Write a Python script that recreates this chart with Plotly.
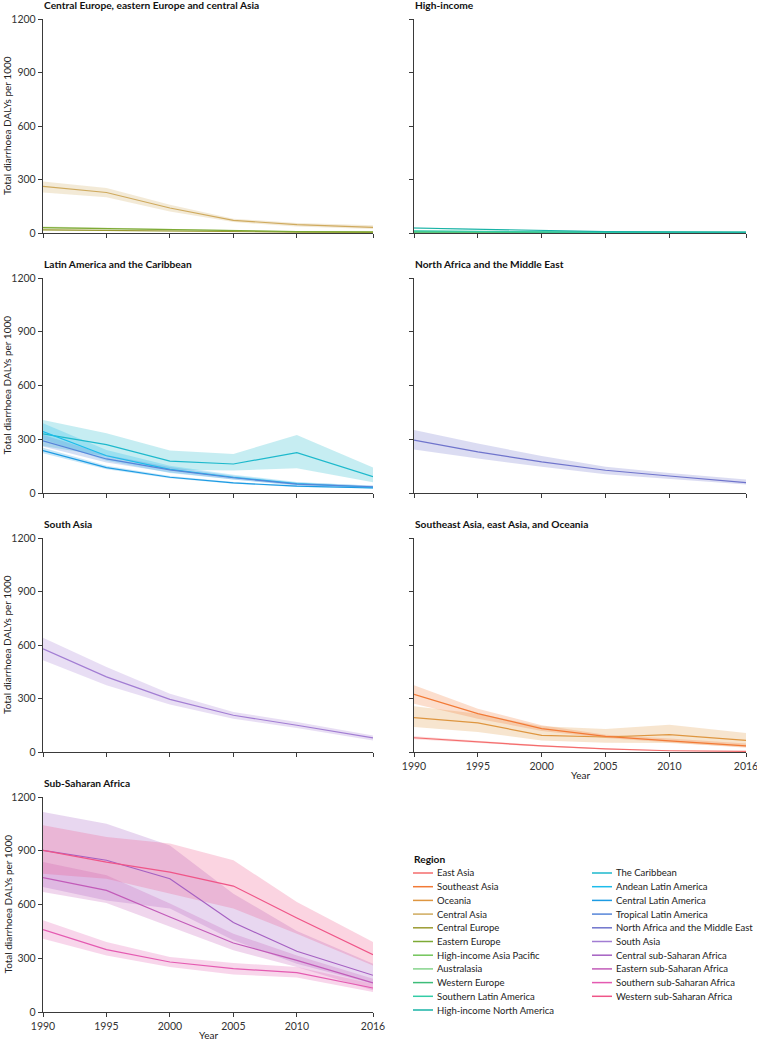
import plotly.graph_objects as go

W, H = 757, 1041
FONT = "Lato"

years = [1990, 1995, 2000, 2005, 2010, 2016]
year_ticks = [1990, 1995, 2000, 2005, 2010, 2016]
y_ticks = [0, 300, 600, 900, 1200]

regions = [
    "East Asia", "Southeast Asia", "Oceania", "Central Asia", "Central Europe",
    "Eastern Europe", "High-income Asia Pacific", "Australasia", "Western Europe",
    "Southern Latin America", "High-income North America",
    "The Caribbean", "Andean Latin America", "Central Latin America",
    "Tropical Latin America", "North Africa and the Middle East", "South Asia",
    "Central sub-Saharan Africa", "Eastern sub-Saharan Africa",
    "Southern sub-Saharan Africa", "Western sub-Saharan Africa",
]

region_colors = [
    "#F46D6D", "#F27A36", "#DE9640", "#CFAA5E", "#9B9B32",
    "#7DAA35", "#72C55A", "#86D48C", "#3DBD79",
    "#33CCA6", "#19B3A6",
    "#1DB9CC", "#1DBCEB", "#1C9BE3",
    "#5585D9", "#6F74CC", "#A27DD3",
    "#A560C2", "#C25BB9",
    "#E45AB1", "#EF5588",
]

# mean, lower and upper uncertainty bounds (DALYs per 1000)
dalys_mean = {
    "East Asia": [80, 56, 34, 17, 7, 4],
    "Southeast Asia": [323, 215, 131, 88, 62, 34],
    "Oceania": [193, 163, 93, 84, 97, 65],
    "Central Asia": [261, 227, 140, 71, 47, 32],
    "Central Europe": [18, 14, 10, 7, 5, 4],
    "Eastern Europe": [30, 24, 18, 12, 8, 6],
    "High-income Asia Pacific": [4, 3, 2, 2, 1, 1],
    "Australasia": [5, 4, 3, 3, 2, 2],
    "Western Europe": [6, 5, 4, 3, 3, 3],
    "Southern Latin America": [12, 8, 6, 4, 3, 3],
    "High-income North America": [28, 20, 12, 8, 6, 5],
    "The Caribbean": [330, 270, 178, 162, 225, 91],
    "Andean Latin America": [343, 208, 132, 88, 52, 32],
    "Central Latin America": [237, 142, 88, 56, 38, 28],
    "Tropical Latin America": [291, 190, 129, 85, 50, 35],
    "North Africa and the Middle East": [295, 230, 174, 127, 95, 58],
    "South Asia": [579, 421, 295, 206, 150, 79],
    "Central sub-Saharan Africa": [902, 847, 744, 499, 339, 205],
    "Eastern sub-Saharan Africa": [750, 679, 530, 385, 288, 162],
    "Southern sub-Saharan Africa": [460, 348, 279, 242, 220, 134],
    "Western sub-Saharan Africa": [902, 837, 781, 703, 525, 320],
}
dalys_lower = {
    "East Asia": [72, 50, 30, 14, 5, 3],
    "Southeast Asia": [271, 187, 118, 79, 52, 24],
    "Oceania": [140, 112, 65, 52, 50, 28],
    "Central Asia": [227, 201, 121, 61, 37, 22],
    "Central Europe": [14, 11, 8, 5, 4, 3],
    "Eastern Europe": [24, 19, 14, 9, 6, 4],
    "High-income Asia Pacific": [3, 2, 1, 1, 1, 0],
    "Australasia": [4, 3, 2, 2, 1, 1],
    "Western Europe": [5, 4, 3, 2, 2, 2],
    "Southern Latin America": [9, 6, 4, 3, 2, 2],
    "High-income North America": [24, 17, 10, 6, 5, 4],
    "The Caribbean": [262, 205, 130, 125, 138, 60],
    "Andean Latin America": [300, 180, 112, 75, 43, 25],
    "Central Latin America": [222, 133, 82, 52, 34, 25],
    "Tropical Latin America": [260, 170, 115, 75, 42, 28],
    "North Africa and the Middle East": [243, 192, 146, 105, 78, 47],
    "South Asia": [514, 374, 267, 187, 135, 65],
    "Central sub-Saharan Africa": [698, 623, 577, 400, 270, 158],
    "Eastern sub-Saharan Africa": [670, 608, 474, 344, 251, 121],
    "Southern sub-Saharan Africa": [409, 316, 251, 210, 192, 112],
    "Western sub-Saharan Africa": [772, 744, 660, 577, 437, 260],
}
dalys_upper = {
    "East Asia": [88, 62, 38, 20, 9, 5],
    "Southeast Asia": [374, 243, 150, 97, 75, 47],
    "Oceania": [256, 215, 144, 129, 153, 107],
    "Central Asia": [289, 252, 158, 80, 56, 43],
    "Central Europe": [22, 17, 12, 9, 6, 5],
    "Eastern Europe": [36, 29, 22, 15, 10, 8],
    "High-income Asia Pacific": [5, 4, 3, 3, 2, 2],
    "Australasia": [6, 5, 4, 4, 3, 3],
    "Western Europe": [7, 6, 5, 4, 4, 4],
    "Southern Latin America": [15, 10, 8, 5, 4, 4],
    "High-income North America": [32, 23, 14, 10, 7, 6],
    "The Caribbean": [408, 334, 237, 218, 324, 143],
    "Andean Latin America": [390, 240, 152, 102, 62, 40],
    "Central Latin America": [252, 152, 95, 61, 42, 32],
    "Tropical Latin America": [325, 212, 145, 96, 58, 42],
    "North Africa and the Middle East": [351, 276, 207, 146, 112, 75],
    "South Asia": [641, 477, 327, 224, 168, 93],
    "Central sub-Saharan Africa": [1116, 1051, 930, 660, 452, 270],
    "Eastern sub-Saharan Africa": [837, 763, 605, 437, 316, 186],
    "Southern sub-Saharan Africa": [512, 391, 307, 273, 251, 158],
    "Western sub-Saharan Africa": [1042, 977, 940, 847, 614, 391],
}

panel_titles = [
    "Central Europe, eastern Europe and central Asia",
    "High-income",
    "Latin America and the Caribbean",
    "North Africa and the Middle East",
    "South Asia",
    "Southeast Asia, east Asia, and Oceania",
    "Sub-Saharan Africa",
]
panel_regions = [
    ["Central Asia", "Central Europe", "Eastern Europe"],
    ["High-income Asia Pacific", "Australasia", "Western Europe",
     "Southern Latin America", "High-income North America"],
    ["The Caribbean", "Andean Latin America", "Central Latin America",
     "Tropical Latin America"],
    ["North Africa and the Middle East"],
    ["South Asia"],
    ["Oceania", "Southeast Asia", "East Asia"],
    ["Central sub-Saharan Africa", "Eastern sub-Saharan Africa",
     "Southern sub-Saharan Africa", "Western sub-Saharan Africa"],
]

# ---- layout geometry (pixels) ----
col_px = [(43, 373), (414, 746)]
row_px = [(19, 233), (278, 493), (538, 752), (797, 1012)]


def px_x(x):
    return x / W


def px_y(y):
    return 1 - y / H


def rgba(hexc, a):
    h = hexc.lstrip("#")
    r, g, b = int(h[0:2], 16), int(h[2:4], 16), int(h[4:6], 16)
    return f"rgba({r},{g},{b},{a})"


color_of = dict(zip(regions, region_colors))

fig = go.Figure()
layout = dict(
    template="none",
    width=W, height=H,
    margin=dict(l=0, r=0, t=0, b=0, autoexpand=False),
    paper_bgcolor="white", plot_bgcolor="white",
    showlegend=False,
    font=dict(family=FONT, size=10, color="#222"),
)
annotations = []
shapes = []

AX = "#3a3a3a"
for i, title in enumerate(panel_titles):
    r, c = divmod(i, 2)
    x0, x1 = col_px[c]
    y0, y1 = row_px[r]
    sfx = "" if i == 0 else str(i + 1)
    show_x = i in (5, 6)
    show_y = c == 0
    layout["xaxis" + sfx] = dict(
        domain=[px_x(x0), px_x(x1)], anchor="y" + sfx, range=[1990, 2016],
        tickvals=year_ticks, showticklabels=show_x, ticks="outside", ticklen=4,
        tickwidth=1.2, tickcolor=AX, showline=True, linecolor=AX, linewidth=1.4,
        showgrid=False, zeroline=False, fixedrange=True, automargin=False,
        ticklabeloverflow="allow",
        tickfont=dict(size=10.5, color="#333"),
    )
    layout["yaxis" + sfx] = dict(
        domain=[px_y(y1), px_y(y0)], anchor="x" + sfx, range=[0, 1200],
        tickvals=y_ticks, showticklabels=show_y, ticks="outside", ticklen=4,
        tickwidth=1.2, tickcolor=AX, showline=True, linecolor=AX, linewidth=1.4,
        showgrid=False, zeroline=False, fixedrange=True, automargin=False,
        ticklabeloverflow="allow",
        tickfont=dict(size=10.5, color="#333"),
    )
    annotations.append(dict(
        text=title, xref="paper", yref="paper", x=px_x(x0 - 1), y=px_y(y0 - 14),
        xanchor="left", yanchor="middle", showarrow=False,
        font=dict(family=FONT, size=10.2, color="#111", weight=700),
    ))
    if show_y:
        annotations.append(dict(
            text="Total diarrhoea DALYs per 1000", xref="paper", yref="paper",
            x=px_x(7), y=px_y((y0 + y1) / 2), textangle=-90,
            xanchor="center", yanchor="middle", showarrow=False,
            font=dict(family=FONT, size=10, color="#222"),
        ))
    if show_x:
        annotations.append(dict(
            text="Year", xref="paper", yref="paper",
            x=px_x((x0 + x1) / 2), y=px_y(y1 + 23),
            xanchor="center", yanchor="middle", showarrow=False,
            font=dict(family=FONT, size=10, color="#222"),
        ))

# bands first
for i, regs in enumerate(panel_regions):
    sfx = "" if i == 0 else str(i + 1)
    for reg in regs:
        fig.add_trace(go.Scatter(
            x=years + years[::-1],
            y=dalys_upper[reg] + dalys_lower[reg][::-1],
            fill="toself", fillcolor=rgba(color_of[reg], 0.25),
            line=dict(width=0), mode="lines", hoverinfo="skip",
            xaxis="x" + sfx, yaxis="y" + sfx, showlegend=False,
        ))
# then lines
for i, regs in enumerate(panel_regions):
    sfx = "" if i == 0 else str(i + 1)
    for reg in regs:
        fig.add_trace(go.Scatter(
            x=years, y=dalys_mean[reg], mode="lines", name=reg,
            line=dict(color=color_of[reg], width=1.2),
            xaxis="x" + sfx, yaxis="y" + sfx,
        ))

# manual legend
leg_x = [413, 592]
leg_y0 = 873
leg_dy = 13.7
annotations.append(dict(
    text="Region", xref="paper", yref="paper", x=px_x(leg_x[0] - 1), y=px_y(859),
    xanchor="left", yanchor="middle", showarrow=False,
    font=dict(family=FONT, size=10.2, color="#111", weight=700),
))
for k, reg in enumerate(regions):
    col = 0 if k < 11 else 1
    row = k if k < 11 else k - 11
    yy = leg_y0 + row * leg_dy
    xx = leg_x[col]
    shapes.append(dict(
        type="line", xref="paper", yref="paper",
        x0=px_x(xx), x1=px_x(xx + 20), y0=px_y(yy), y1=px_y(yy),
        line=dict(color=color_of[reg], width=1.5),
    ))
    annotations.append(dict(
        text=reg, xref="paper", yref="paper", x=px_x(xx + 22), y=px_y(yy),
        xanchor="left", yanchor="middle", showarrow=False,
        font=dict(family=FONT, size=9.5, color="#222"),
    ))

layout["annotations"] = annotations
layout["shapes"] = shapes
fig.update_layout(**layout)
fig.write_html(
    "out.html",
    config={"displayModeBar": False},
    post_script="document.body.style.margin='0px';document.body.style.overflow='hidden';",
)
